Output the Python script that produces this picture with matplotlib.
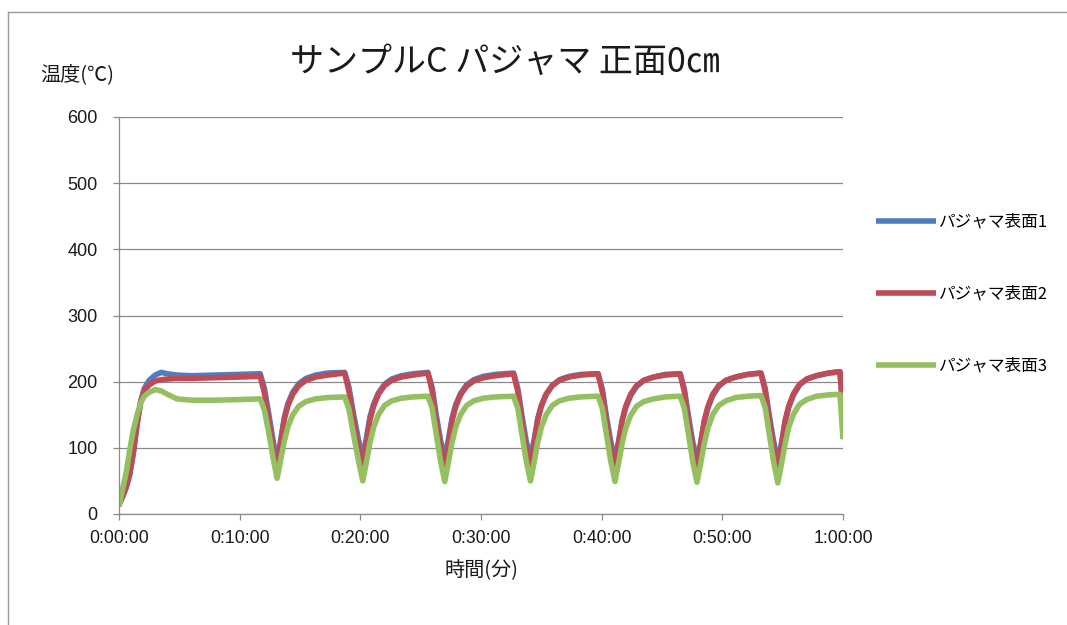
import matplotlib
matplotlib.use("Agg")
import matplotlib.pyplot as plt
from matplotlib.lines import Line2D

# ---- data -------------------------------------------------------------
title = "サンプルC パジャマ 正面0㎝"
y_label = "温度(℃)"
x_label = "時間(分)"
series_names = ["パジャマ表面1", "パジャマ表面2", "パジャマ表面3"]

x_ticks = [0, 10, 20, 30, 40, 50, 60]
x_tick_labels = ["0:00:00", "0:10:00", "0:20:00", "0:30:00", "0:40:00", "0:50:00", "1:00:00"]
y_ticks = [0, 100, 200, 300, 400, 500, 600]

# elapsed time (minutes)
time_min = [
    0, 0.3, 0.6, 0.9, 1.2, 1.5, 1.8, 2.1, 2.5, 3.0, 3.5, 4.0, 4.8, 6.0, 8.0, 10.0, 11.7,
    12.05, 12.45, 12.8, 13.1,
    13.4, 13.7, 14.0, 14.4, 14.9, 15.5, 16.3, 17.3, 18.7,
    19.05, 19.45, 19.85, 20.2,
    20.5, 20.8, 21.1, 21.5, 22.0, 22.6, 23.4, 24.4, 25.6,
    25.95, 26.3, 26.65, 27.0,
    27.3, 27.6, 27.9, 28.3, 28.8, 29.4, 30.2, 31.2, 32.7,
    33.05, 33.4, 33.75, 34.1,
    34.4, 34.7, 35.0, 35.4, 35.9, 36.5, 37.3, 38.3, 39.7,
    40.05, 40.4, 40.75, 41.1,
    41.4, 41.7, 42.0, 42.4, 42.9, 43.5, 44.3, 45.3, 46.5,
    46.85, 47.2, 47.55, 47.9,
    48.2, 48.5, 48.8, 49.2, 49.7, 50.3, 51.1, 52.1, 53.2,
    53.55, 53.9, 54.25, 54.6,
    54.9, 55.2, 55.5, 55.9, 56.4, 57.0, 57.8, 58.8, 59.75,
    60.0,
]

surface1 = [
    14, 26, 40, 60, 93, 135, 170, 190, 202, 210, 214, 212, 210, 209, 210, 211, 212,
    190, 147, 108, 76,
    112, 146, 167, 184, 197, 205, 210, 213, 214,
    192, 150, 112, 84,
    115, 147, 166, 183, 196, 204, 209, 212, 214,
    191, 149, 111, 83,
    113, 145, 165, 182, 195, 203, 208, 211, 213,
    190, 148, 110, 84,
    112, 144, 164, 181, 194, 203, 208, 211, 212,
    189, 147, 110, 82,
    110, 141, 161, 179, 193, 202, 207, 211, 212,
    189, 147, 109, 81,
    108, 139, 160, 179, 193, 202, 207, 211, 213,
    190, 148, 110, 80,
    106, 139, 161, 180, 195, 204, 209, 213, 215,
    158,
]

surface2 = [
    15, 27, 41, 62, 95, 137, 170, 187, 195, 201, 203, 204, 205, 205, 206, 207, 208,
    183, 137, 98, 69,
    108, 143, 164, 181, 194, 202, 207, 210, 213,
    186, 140, 100, 66,
    106, 142, 163, 181, 194, 202, 207, 210, 213,
    186, 140, 100, 65,
    105, 141, 162, 180, 193, 201, 206, 209, 212,
    185, 139, 99, 66,
    106, 142, 163, 181, 194, 202, 207, 210, 212,
    185, 139, 99, 66,
    106, 142, 163, 181, 194, 202, 207, 210, 212,
    185, 139, 99, 65,
    105, 141, 162, 181, 194, 202, 207, 211, 213,
    186, 140, 100, 64,
    104, 141, 163, 182, 196, 204, 209, 213, 215,
    152,
]

surface3 = [
    11, 38, 63, 98, 128, 150, 168, 178, 184, 188, 186, 181, 174, 172, 172, 173, 174,
    157, 119, 82, 54,
    82, 110, 132, 150, 163, 170, 174, 176, 177,
    159, 119, 80, 50,
    78, 108, 131, 150, 164, 171, 175, 177, 178,
    160, 120, 80, 49,
    78, 108, 131, 150, 164, 171, 175, 177, 178,
    160, 120, 80, 50,
    78, 108, 131, 150, 164, 171, 175, 177, 178,
    160, 120, 80, 49,
    77, 107, 130, 149, 163, 170, 174, 177, 178,
    160, 120, 79, 48,
    76, 106, 130, 150, 164, 171, 176, 178, 179,
    161, 120, 79, 47,
    75, 106, 131, 151, 166, 173, 178, 180, 181,
    113,
]

# ---- styling ----------------------------------------------------------
JP = ["Noto Sans CJK JP", "DejaVu Sans"]
NUM = ["Liberation Sans", "Noto Sans CJK JP", "DejaVu Sans"]
colors = ["#4F7EC0", "#BE4B55", "#94C062"]
grid_gray = "#8A8A8A"
text_color = "#1a1a1a"

W, H = 1067, 625
fig = plt.figure(figsize=(W / 100, H / 100), dpi=100)
fig.patch.set_facecolor("white")

ax = fig.add_axes([119 / W, 1 - 514 / H, (843 - 119) / W, (514 - 117) / H])

for vals, c, name in zip([surface1, surface2, surface3], colors, series_names):
    ax.plot(time_min, vals, color=c, lw=4.0, solid_capstyle="butt",
            solid_joinstyle="round", label=name)

ax.set_xlim(0, 60)
ax.set_ylim(0, 600)
ax.set_xticks(x_ticks)
ax.set_xticklabels(x_tick_labels, family=NUM, fontsize=12.7, color=text_color)
ax.set_yticks(y_ticks)
ax.set_yticklabels([str(v) for v in y_ticks], family=NUM, fontsize=13, color=text_color)
ax.tick_params(axis="x", direction="out", length=4.3, width=0.9, color=grid_gray, pad=7)
ax.tick_params(axis="y", direction="out", length=4.3, width=0.9, color=grid_gray, pad=11)

ax.grid(axis="y", color=grid_gray, lw=0.9)
ax.set_axisbelow(True)
for side in ("top", "right"):
    ax.spines[side].set_visible(False)
for side in ("left", "bottom"):
    ax.spines[side].set_color(grid_gray)
    ax.spines[side].set_linewidth(0.9)

# titles and axis captions
fig.text(504.5 / W, 1 - 62 / H, title, family=JP, fontsize=24.5,
         ha="center", va="center", color=text_color)
fig.text(40 / W, 1 - 75 / H, y_label, family=JP, fontsize=14.5,
         ha="left", va="center", color=text_color)
fig.text(481 / W, 1 - 571 / H, x_label, family=JP, fontsize=14.5,
         ha="center", va="center", color=text_color)

# legend on the right
leg = ax.legend(loc="upper left", bbox_to_anchor=(868 / W, 1 - 205 / H),
                bbox_transform=fig.transFigure, frameon=False,
                prop={"family": JP, "size": 12}, handlelength=3.6,
                handletextpad=0.15, labelspacing=3.3, borderpad=0)
for h in leg.get_lines():
    h.set_linewidth(4.0)

# chart-area border (left and top edges)
fig.add_artist(Line2D([7.5 / W, 7.5 / W], [0, 1 - 12 / H], transform=fig.transFigure,
                      color="#9A9A9A", lw=1.0))
fig.add_artist(Line2D([7.5 / W, 1], [1 - 12 / H, 1 - 12 / H], transform=fig.transFigure,
                      color="#9A9A9A", lw=1.0))

fig.savefig("out.png", dpi=100, facecolor="white")
